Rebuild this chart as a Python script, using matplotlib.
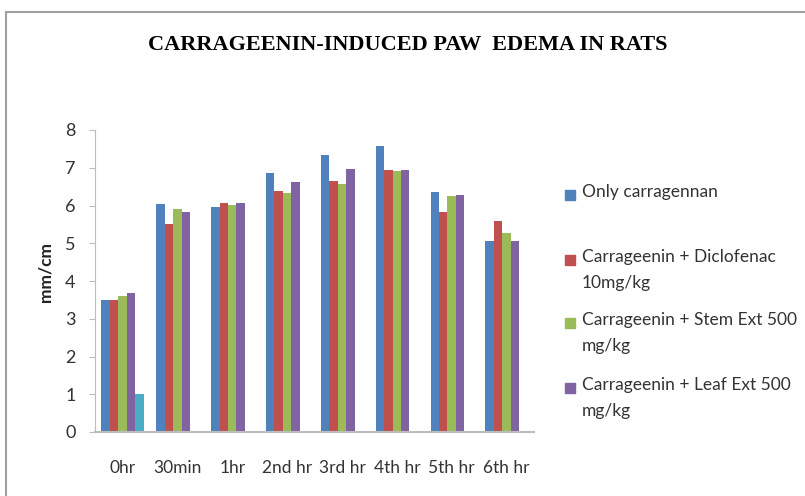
import matplotlib.pyplot as plt
import numpy as np

# Time points
categories = ["0hr", "30min", "1hr", "2nd hr", "3rd hr", "4th hr", "5th hr", "6th hr"]

# Paw edema (mm/cm)
only_carr = [3.49, 6.04, 5.96, 6.87, 7.35, 7.58, 6.37, 5.05]
diclofenac = [3.50, 5.51, 6.06, 6.38, 6.65, 6.93, 5.82, 5.58]
stem_ext = [3.59, 5.90, 6.02, 6.32, 6.58, 6.91, 6.24, 5.27]
leaf_ext = [3.68, 5.82, 6.06, 6.63, 6.96, 6.93, 6.27, 5.07]
extra = [1.0, np.nan, np.nan, np.nan, np.nan, np.nan, np.nan, np.nan]  # stray 5th series

labels = [
    "Only carragennan",
    "Carrageenin + Diclofenac\n10mg/kg",
    "Carrageenin + Stem Ext 500\nmg/kg",
    "Carrageenin + Leaf Ext 500\nmg/kg",
]
colors = ["#4F81BD", "#C0504D", "#9BBB59", "#8064A2", "#4BACC6"]

series = [only_carr, diclofenac, stem_ext, leaf_ext, extra]

fig = plt.figure(figsize=(8.05, 4.96), dpi=100)
ax = fig.add_axes([95 / 805, 1 - 432 / 496, (534 - 95) / 805, (432 - 130) / 496])

x = np.arange(len(categories))
w = 1 / 6.5
for i, vals in enumerate(series):
    ax.bar(x + (i - 2) * w, vals, width=w, color=colors[i], edgecolor="none")

ax.set_xlim(-0.5, len(categories) - 0.5)
ax.set_ylim(0, 8)
ax.set_yticks(range(0, 9))
ax.set_xticks(x)
ax.set_xticklabels(categories)

for s in ["top", "right"]:
    ax.spines[s].set_visible(False)
ax.spines["left"].set_color("#BDBDBD")
ax.spines["bottom"].set_color("#BDBDBD")
ax.spines["bottom"].set_linewidth(1.5)
ax.tick_params(axis="y", colors="#BDBDBD", labelcolor="#333333", length=4,
               labelsize=13, pad=10)
ax.tick_params(axis="x", length=0, labelcolor="#333333", labelsize=12.5, pad=20)
for t in ax.get_xticklabels() + ax.get_yticklabels():
    t.set_family("Lato")

ax.set_ylabel("mm/cm", fontsize=12.5, fontweight="bold", family="Lato",
              color="#222222")
ax.yaxis.set_label_coords((53 - 95) / 439, (432 - 272) / 302)

fig.text(408 / 805, 1 - 45 / 496, "CARRAGEENIN-INDUCED PAW  EDEMA IN RATS",
         ha="center", va="center", fontsize=16, fontweight="bold",
         family="Liberation Serif")

# legend drawn by hand to match spacing
leg_y = [195, 260, 323, 388]
for yy, lab, c in zip(leg_y, labels, colors):
    fig.patches.append(plt.Rectangle((565 / 805, 1 - (yy + 5) / 496), 10 / 805, 10 / 496,
                                     transform=fig.transFigure, color=c))
    fig.text(582 / 805, 1 - (yy - 11) / 496, lab, ha="left", va="top",
             fontsize=12.5, family="Lato", color="#333333", linespacing=1.8)

# outer chart border
fig.add_artist(plt.Line2D([6 / 805, 6 / 805], [0, 1 - 12 / 496], color="#A0A0A0",
                          lw=1.5, transform=fig.transFigure))
fig.add_artist(plt.Line2D([6 / 805, 1], [1 - 12 / 496, 1 - 12 / 496], color="#A0A0A0",
                          lw=1.5, transform=fig.transFigure))

fig.savefig("out.png", dpi=100)
